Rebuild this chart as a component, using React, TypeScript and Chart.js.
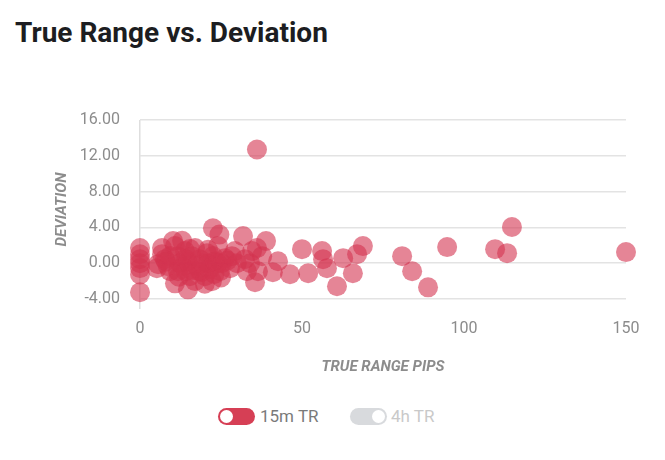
import { useEffect, useRef } from "react";
import { Chart, registerables } from "chart.js";

Chart.register(...registerables);

// 15m true range (pips) vs deviation
const trueRange15m = [
  0, 0, 0, 0, 0, 0, 0,
  5.2, 5.6, 6.8, 6.8, 7.7, 8.0, 8.6, 9.3, 9.3, 10.2, 10.8, 10.8, 11.7, 11.7, 12.0, 12.3,
  13.0, 13.3, 13.9, 14.0, 14.2, 14.8, 14.8, 15.4, 15.4, 16.0, 16.0, 17.0, 17.0, 17.6, 18.5,
  18.5, 19.0, 19.4, 20.0, 20.1, 20.7, 21.0, 21.0, 21.6, 22.2, 22.5, 22.5, 23.0, 23.1, 24.0,
  24.1, 24.5, 24.7, 25.0, 25.3, 26.2, 27.0, 27.8, 28.4, 29.3, 29.9, 31.8, 32.4, 33.0, 34.0,
  34.6, 35.5, 36.1, 36.1, 36.4, 37.7, 38.9, 41.0, 42.6, 46.3,
  50.0, 51.9, 56.2, 56.5, 57.7, 60.8, 62.7, 65.7, 67.0, 68.8, 80.9, 84.0, 88.9,
  94.8, 109.6, 113.3, 114.8, 150,
];
const deviation15m = [
  1.7, 1.0, 0.45, 0, -0.55, -1.25, -3.25,
  -0.56, -0.11, 1.69, 1.01, 0.45, 0.2, -0.34, -0.9, 0.8, 2.47, 1.91, -2.25, 0.79, -0.9, -1.5, 0,
  2.5, -0.34, 1.35, 0.5, -0.9, -2.92, 0.22, -1.46, 1.6, 0.79, -0.8, 1.69, -2.0, -0.34, 0.45,
  -0.9, -1.0, 0, -2.3, -1.46, 1.12, 0, 1.5, -0.67, -2.02, 3.9, 0.8, -1.2, 0.22, 0,
  1.91, 3.2, -0.9, -1.6, 0, 0.56, 0.3, -0.56, 0.79, 1.35, 0, 3.03, 0.45, -0.9, 0,
  1.35, -2.13, 1.69, 12.7, -0.9, 0.79, 2.47, -1.01, 0.22, -1.24,
  1.57, -1.12, 1.35, 0.45, -0.56, -2.58, 0.56, -1.12, 1.01, 1.91, 0.79, -0.9, -2.7,
  1.8, 1.57, 1.12, 4.04, 1.24,
];
// 4h series is switched off in the legend
const trueRange4h: number[] = [];
const deviation4h: number[] = [];

const xTicks = [0, 50, 100, 150];
const yTicks = [-4, 0, 4, 8, 12, 16];

const RED = "rgba(212, 52, 80, 0.6)";
const GREY = "#8c8c8c";

export default function App() {
  const canvasRef = useRef<HTMLCanvasElement | null>(null);

  useEffect(() => {
    const el = canvasRef.current;
    if (!el) return;

    const c = new Chart(el, {
      type: "scatter",
      data: {
        datasets: [
          {
            label: "15m TR",
            data: trueRange15m.map((x, i) => ({ x, y: deviation15m[i] })),
            backgroundColor: RED,
            borderWidth: 0,
            pointRadius: 10,
            clip: false as any,
          },
          {
            label: "4h TR",
            data: trueRange4h.map((x, i) => ({ x, y: deviation4h[i] })),
            backgroundColor: "rgba(120,120,120,0.5)",
            pointRadius: 10,
            hidden: true,
          },
        ],
      },
      options: {
        responsive: true,
        maintainAspectRatio: false,
        animation: false,
        layout: { padding: { top: 20, right: 39, left: 0, bottom: 0 } },
        plugins: { legend: { display: false }, tooltip: { enabled: false } },
        scales: {
          x: {
            type: "linear",
            min: xTicks[0],
            max: xTicks[xTicks.length - 1],
            afterBuildTicks: (s: any) => {
              s.ticks = xTicks.map((value) => ({ value }));
            },
            afterFit: (s: any) => {
              s.height = 81;
            },
            border: { display: false },
            grid: {
              drawTicks: true,
              tickLength: 10,
              lineWidth: 1.5,
              color: (ctx: any) => (ctx.tick && ctx.tick.value === 0 ? "#dedede" : "transparent"),
            },
            ticks: {
              padding: 10,
              color: GREY,
              font: { family: "Roboto", size: 16 },
            },
            title: {
              display: true,
              text: "TRUE RANGE PIPS",
              color: GREY,
              padding: { top: 0, bottom: 4 },
              font: { family: "Roboto", size: 15, weight: "bold", style: "italic" },
            },
          },
          y: {
            type: "linear",
            min: yTicks[0],
            max: yTicks[yTicks.length - 1],
            afterBuildTicks: (s: any) => {
              s.ticks = yTicks.map((value) => ({ value }));
            },
            afterFit: (s: any) => {
              s.width = 140;
            },
            border: { display: false },
            grid: { drawTicks: true, tickLength: 16, tickColor: "transparent", color: "#e3e3e3", lineWidth: 1.5 },
            ticks: {
              padding: 4,
              color: GREY,
              font: { family: "Roboto", size: 16 },
              callback: (v: any) => Number(v).toFixed(2),
            },
            title: {
              display: true,
              text: "DEVIATION",
              color: GREY,
              padding: { top: 53, bottom: 0 },
              font: { family: "Roboto", size: 15, weight: "bold", style: "italic" },
            },
          },
        },
      },
    });

    return () => c.destroy();
  }, []);

  return (
    <div style={{ position: "absolute", left: 0, top: 0, width: 665, height: 460, background: "#fff", fontFamily: "Roboto" }}>
      <div
        style={{
          position: "absolute",
          left: 15,
          top: 19,
          fontSize: 28,
          lineHeight: "28px",
          fontWeight: 700,
          color: "#1c1d21",
          whiteSpace: "nowrap",
        }}
      >
        True Range vs. Deviation
      </div>
      <div style={{ position: "absolute", left: 0, top: 100, width: 665, height: 280 }}>
        <canvas ref={canvasRef} />
      </div>
      {/* legend toggles */}
      <div style={{ position: "absolute", left: 218, top: 408, width: 37, height: 17, borderRadius: 9, background: "#d63f55" }}>
        <div style={{ position: "absolute", left: 2, top: 2, width: 13, height: 13, borderRadius: "50%", background: "#fff" }} />
      </div>
      <div style={{ position: "absolute", left: 260, top: 405, fontSize: 17, lineHeight: "22px", color: "#7a7a7a" }}>15m TR</div>
      <div style={{ position: "absolute", left: 350, top: 408, width: 37, height: 17, borderRadius: 9, background: "#d8dadd" }}>
        <div style={{ position: "absolute", right: 2, top: 2, width: 13, height: 13, borderRadius: "50%", background: "#fff" }} />
      </div>
      <div style={{ position: "absolute", left: 391, top: 405, fontSize: 17, lineHeight: "22px", color: "#c9c9c9" }}>4h TR</div>
    </div>
  );
}
